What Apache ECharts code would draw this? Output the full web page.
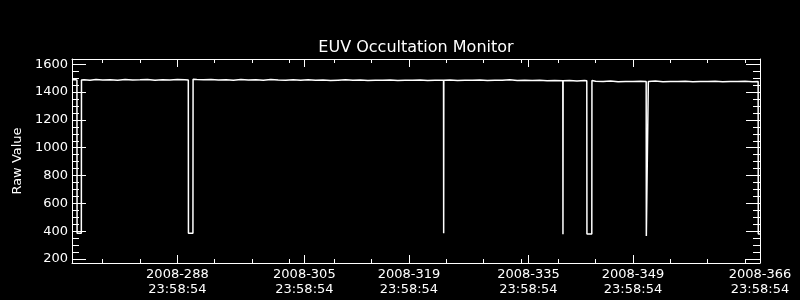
<!DOCTYPE html>
<html>
<head>
<meta charset="utf-8">
<script src="https://cdn.jsdelivr.net/npm/echarts@6/dist/echarts.min.js"></script>
<style>
html,body{margin:0;padding:0;background:#000;}
#chart{width:800px;height:300px;}
</style>
</head>
<body>
<div id="chart"></div>
<script>
// Time axis in day-of-year 2008 (fractional)
var xMin = 274.89;
var xMax = 366.999;
var yMin = 171;
var yMax = 1638;

var majorDays = [288.999, 305.999, 319.999, 335.999, 349.999, 366.999];
var majorLabels = ['2008-288\n23:58:54', '2008-305\n23:58:54', '2008-319\n23:58:54',
                   '2008-335\n23:58:54', '2008-349\n23:58:54', '2008-366\n23:58:54'];
var minorDays = [279.0, 284.0, 294.0, 299.0, 304.0, 310.0, 315.0, 325.0, 330.0,
                 335.0, 340.0, 345.0, 355.0, 360.0, 365.0];
var yMajorTicks = [200, 400, 600, 800, 1000, 1200, 1400, 1600];
var yMinorTicks = [250, 300, 350, 450, 500, 550, 650, 700, 750, 850, 900, 950,
                   1050, 1100, 1150, 1250, 1300, 1350, 1450, 1500, 1550];

var days = [
  274.89, 275.2, 275.55, 275.57, 276.14, 276.16, 276.5, 277.3, 278.1, 279.0,
  280.0, 281.0, 282.0, 283.0, 284.0, 285.0, 286.0, 287.0, 288.0, 289.0,
  290.0, 290.46, 290.48, 291.08, 291.1, 291.6, 292.5, 293.5, 294.5, 295.5,
  296.5, 297.5, 298.5, 299.5, 300.5, 301.5, 302.5, 303.5, 304.5, 305.5,
  306.5, 307.5, 308.5, 309.5, 310.5, 311.5, 312.5, 313.5, 314.5, 315.5,
  316.5, 317.5, 318.5, 319.5, 320.5, 321.5, 322.5, 323.5, 324.63, 324.65,
  324.67, 325.5, 326.5, 327.5, 328.5, 329.5, 330.5, 331.5, 332.5, 333.5,
  334.5, 335.5, 336.5, 337.5, 338.5, 339.5, 340.6, 340.62, 340.64, 341.5,
  342.5, 343.5, 343.81, 343.83, 344.48, 344.5, 345.0, 346.0, 347.0, 348.0,
  349.0, 350.0, 351.0, 351.76, 351.78, 352.03, 352.05, 353.0, 354.0, 355.0,
  356.0, 357.0, 358.0, 359.0, 360.0, 361.0, 362.0, 363.0, 364.0, 365.0,
  366.0, 366.75, 366.77, 366.999
];
var rawValues = [
  1488, 1490, 1487, 385, 385, 1487, 1489, 1486, 1491, 1487,
  1489, 1486, 1490, 1487, 1488, 1491, 1486, 1489, 1487, 1490,
  1488, 1487, 385, 385, 1492, 1490, 1488, 1491, 1487, 1489,
  1486, 1490, 1487, 1489, 1486, 1490, 1487, 1485, 1489, 1486,
  1488, 1485, 1487, 1484, 1486, 1488, 1485, 1487, 1484, 1486,
  1485, 1487, 1484, 1486, 1485, 1487, 1484, 1486, 1485, 385,
  1485, 1487, 1484, 1486, 1485, 1487, 1484, 1486, 1485, 1488,
  1484, 1486, 1483, 1486, 1482, 1484, 1482, 378, 1481, 1483,
  1480, 1484, 1481, 380, 380, 1484, 1478, 1476, 1479, 1475,
  1477, 1476, 1478, 1476, 365, 365, 1477, 1479, 1475, 1477,
  1476, 1478, 1475, 1477, 1476, 1478, 1475, 1477, 1476, 1478,
  1475, 1476, 380, 380
];

var seriesData = days.map(function (d, i) { return [d, rawValues[i]]; });

var white = '#ffffff';
var font = 'DejaVu Sans';

function xAx(pos, ticks, len, showLine, showLabel) {
  return {
    type: 'value', position: pos, min: xMin, max: xMax,
    axisLine: { show: showLine, onZero: false, lineStyle: { color: white, width: 1 } },
    axisTick: { show: true, inside: true, length: len, customValues: ticks,
                lineStyle: { color: white, width: 1 } },
    axisLabel: showLabel ? {
      show: true, customValues: majorDays, color: white, fontFamily: font,
      fontSize: 13, lineHeight: 15, margin: 4,
      formatter: function (v) {
        for (var i = 0; i < majorDays.length; i++) {
          if (Math.abs(majorDays[i] - v) < 0.01) return majorLabels[i];
        }
        return '';
      }
    } : { show: false },
    splitLine: { show: false }
  };
}
function yAx(pos, ticks, len, showLine, showLabel) {
  var a = {
    type: 'value', position: pos, min: yMin, max: yMax,
    axisLine: { show: showLine, onZero: false, lineStyle: { color: white, width: 1 } },
    axisTick: { show: true, inside: true, length: len, customValues: ticks,
                lineStyle: { color: white, width: 1 } },
    axisLabel: showLabel ? {
      show: true, customValues: yMajorTicks, color: white, fontFamily: font,
      fontSize: 13, margin: 4,
      formatter: function (v) { return String(Math.round(v)); }
    } : { show: false },
    splitLine: { show: false }
  };
  if (showLabel) {
    a.name = 'Raw Value';
    a.nameLocation = 'middle';
    a.nameGap = 43;
    a.nameTextStyle = { color: white, fontFamily: font, fontSize: 13 };
  }
  return a;
}

var chart = echarts.init(document.getElementById('chart'), null, { renderer: 'canvas' });
chart.setOption({
  backgroundColor: '#000000',
  animation: false,
  title: {
    text: 'EUV Occultation Monitor',
    left: 416, top: 40, padding: 0, textAlign: 'center',
    textStyle: { color: white, fontFamily: font, fontSize: 16, fontWeight: 'normal' }
  },
  grid: { left: 72, right: 40, top: 59, bottom: 37, containLabel: false },
  xAxis: [
    xAx('bottom', majorDays, 8, true, true),
    xAx('bottom', minorDays, 4, false, false),
    xAx('top', majorDays, 8, true, false),
    xAx('top', minorDays, 4, false, false)
  ],
  yAxis: [
    yAx('left', yMajorTicks, 14, true, true),
    yAx('left', yMinorTicks, 7, false, false),
    yAx('right', yMajorTicks, 14, true, false),
    yAx('right', yMinorTicks, 7, false, false)
  ],
  series: [{
    type: 'line',
    xAxisIndex: 0, yAxisIndex: 0,
    data: seriesData,
    showSymbol: false,
    symbol: 'none',
    lineStyle: { color: white, width: 1.5 },
    silent: true
  }]
});
</script>
</body>
</html>
